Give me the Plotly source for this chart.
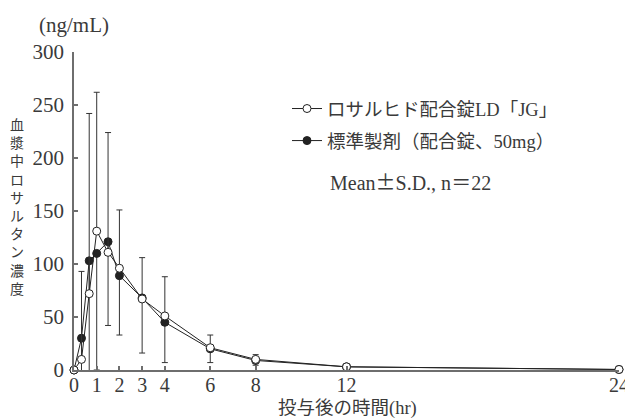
import plotly.graph_objects as go

# ---- data ----
time_hr = [0, 0.33, 0.67, 1, 1.5, 2, 3, 4, 6, 8, 12, 24]
test_mean = [0, 10, 72, 131, 111, 96, 67, 51, 21, 10, 3, 0.5]
test_sd = [0, 83, 170, 131, 113, 55, 39, 37, 12, 4.5, 2, 0.5]
ref_mean = [0, 30, 103, 110, 121, 89, 68, 45, 20, 9, 3, 0.5]
ref_sd = [0, 42, 109, 110, 79, 56, 52, 38, 13, 4.5, 2, 0.5]

x_ticks = [0, 1, 2, 3, 4, 6, 8, 12, 24]
y_ticks = [0, 50, 100, 150, 200, 250, 300]

test_name = "ロサルヒド配合錠LD「JG」"
ref_name = "標準製剤（配合錠、50mg）"
note_text = "Mean<span style='font-family:Noto Sans CJK JP'>±</span>S.D., n<span style='font-family:Noto Sans CJK JP'>＝</span>22"
y_label = "血漿中ロサルタン濃度"
unit_label = "(ng/mL)"
x_label = "投与後の時間(hr)"

FONT = "Liberation Serif, Noto Sans CJK JP, serif"
TXT = "#3a3a3a"
LINE = "#222222"
AXIS = "#6e6e6e"

# the page body has an 8px margin, so the figure is placed 8px in from the window corner
OFF = 8
W, H = 633 - OFF, 419 - OFF
ML, MR, MT, MB = 74 - OFF, 14, 52 - OFF, 49
PW, PH = W - ML - MR, H - MT - MB


def px(xw):
    """window x pixel -> paper x"""
    return (xw - OFF - ML) / PW


def py(yw):
    """window y pixel -> paper y"""
    return (H - MB - (yw - OFF)) / PH


fig = go.Figure()

fig.add_trace(go.Scatter(
    x=time_hr, y=ref_mean, name=ref_name, mode="lines+markers",
    line=dict(color=LINE, width=1),
    marker=dict(symbol="circle", size=8, color=LINE, line=dict(color=LINE, width=1)),
    error_y=dict(type="data", symmetric=False, array=[0] * len(ref_sd), arrayminus=ref_sd,
                 color="#333333", thickness=1, width=3),
    cliponaxis=False, legendgroup="ref", legendrank=2,
))
fig.add_trace(go.Scatter(
    x=time_hr, y=test_mean, name=test_name, mode="lines+markers",
    line=dict(color=LINE, width=1),
    marker=dict(symbol="circle", size=8, color="white", line=dict(color=LINE, width=1)),
    error_y=dict(type="data", symmetric=False, array=test_sd, arrayminus=[0] * len(test_sd),
                 color="#333333", thickness=1, width=3),
    cliponaxis=False, legendgroup="test", legendrank=1,
))

axis_common = dict(
    showgrid=False, zeroline=False, showline=True, linecolor=AXIS, linewidth=1.5,
    ticks="inside", ticklen=4, tickcolor=AXIS, tickwidth=1.5, automargin=False,
)

fig.update_xaxes(range=[0, 24], tickmode="array", tickvals=x_ticks,
                 ticktext=[str(v) for v in x_ticks], ticklabelstandoff=-4,
                 tickfont=dict(family=FONT, size=20, color=TXT),
                 **axis_common)
fig.update_yaxes(range=[0, 300], tickmode="array", tickvals=y_ticks,
                 ticktext=[str(v) for v in y_ticks], ticklabelstandoff=4,
                 tickfont=dict(family=FONT, size=21, color=TXT),
                 **axis_common)

annotations = []
# unit label
annotations.append(dict(text=unit_label, xref="paper", yref="paper",
                        x=px(74), y=py(25), xanchor="center", yanchor="middle",
                        showarrow=False, font=dict(family=FONT, size=21, color=TXT)))
# vertical y-axis label, one character per line
annotations.append(dict(text="<br>".join(y_label), xref="paper", yref="paper",
                        x=px(17), y=py(206), xanchor="center", yanchor="middle",
                        showarrow=False, align="center",
                        font=dict(family="Noto Sans CJK JP", size=14, color=TXT)))
# x-axis title
annotations.append(dict(text=x_label, xref="paper", yref="paper",
                        x=px(347), y=py(408), xanchor="center", yanchor="middle",
                        showarrow=False, font=dict(family=FONT, size=18.5, color=TXT)))
# note line under legend
annotations.append(dict(text=note_text, xref="paper", yref="paper",
                        x=px(328), y=py(181), xanchor="left", yanchor="middle",
                        showarrow=False, font=dict(family=FONT, size=20, color=TXT)))

fig.update_layout(
    width=W, height=H, margin=dict(l=ML, r=MR, t=MT, b=MB, autoexpand=False),
    paper_bgcolor="white", plot_bgcolor="white",
    showlegend=True,
    legend=dict(x=px(287), y=py(90), xanchor="left", yanchor="top",
                traceorder="grouped", tracegroupgap=5, itemwidth=30,
                font=dict(family=FONT, size=18.5, color=TXT), bgcolor="rgba(0,0,0,0)"),
    annotations=annotations,
)

fig.write_html("out.html")
